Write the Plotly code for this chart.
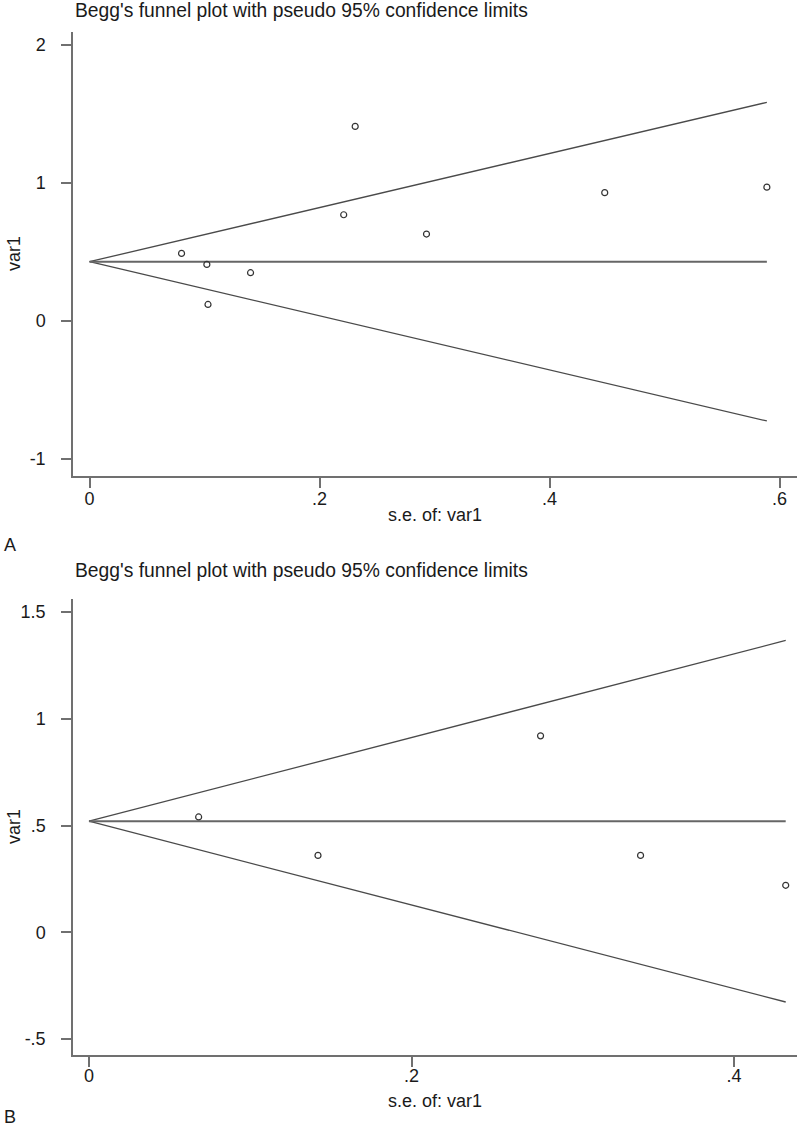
import plotly.graph_objects as go

# Panel A: standard errors and estimates
se_a = [0.080, 0.102, 0.103, 0.140, 0.221, 0.231, 0.293, 0.448, 0.589]
est_a = [0.49, 0.41, 0.12, 0.35, 0.77, 1.41, 0.63, 0.93, 0.97]
pooled_a = 0.43

# Panel B
se_b = [0.068, 0.142, 0.280, 0.342, 0.432]
est_b = [0.54, 0.36, 0.92, 0.36, 0.22]
pooled_b = 0.52

title_text = "Begg's funnel plot with pseudo 95% confidence limits"
x_title = "s.e. of: var1"
y_title = "var1"

W, H = 800, 1127
FONT = "Liberation Sans, Arial, sans-serif"
AXIS_GREY = "#707070"
LINE_GREY = "#4a4a4a"
TEXT = "#1a1a1a"


def funnel_traces(se, est, pooled, xa, ya):
    se_max = max(se)
    xs = [0, se_max]
    traces = [
        go.Scatter(x=xs, y=[pooled, pooled + 1.96 * se_max], mode="lines",
                   line=dict(color=LINE_GREY, width=1.3), xaxis=xa, yaxis=ya),
        go.Scatter(x=xs, y=[pooled, pooled - 1.96 * se_max], mode="lines",
                   line=dict(color=LINE_GREY, width=1.3), xaxis=xa, yaxis=ya),
        go.Scatter(x=xs, y=[pooled, pooled], mode="lines",
                   line=dict(color="#666666", width=2), xaxis=xa, yaxis=ya),
        go.Scatter(x=se, y=est, mode="markers",
                   marker=dict(symbol="circle-open", size=6, color="#333333",
                               line=dict(width=1.2)),
                   xaxis=xa, yaxis=ya),
    ]
    return traces


fig = go.Figure()
for t in funnel_traces(se_a, est_a, pooled_a, "x", "y"):
    fig.add_trace(t)
for t in funnel_traces(se_b, est_b, pooled_b, "x2", "y2"):
    fig.add_trace(t)


def px_y(p):
    return 1 - p / H


axis_common = dict(
    showline=True, linecolor=AXIS_GREY, linewidth=1.5,
    ticks="outside", ticklen=10, tickwidth=1.5, tickcolor=AXIS_GREY,
    showgrid=False, zeroline=False,
    tickfont=dict(family=FONT, size=18, color=TEXT),
)

x_dom = [73 / W, 797 / W]
fig.update_layout(
    width=W, height=H, autosize=False,
    margin=dict(l=0, r=0, t=0, b=0),
    paper_bgcolor="white", plot_bgcolor="white",
    showlegend=False,
    xaxis=dict(axis_common, domain=x_dom, range=[-0.0144, 0.6152],
               tickvals=[0, 0.2, 0.4, 0.6], ticktext=["0", ".2", ".4", ".6"],
               ticklabelstandoff=-4, anchor="y"),
    yaxis=dict(axis_common, domain=[px_y(476), px_y(32)], range=[-1.123, 2.094],
               tickvals=[-1, 0, 1, 2], ticktext=["-1", "0", "1", "2"],
               ticklabelstandoff=12, anchor="x"),
    xaxis2=dict(axis_common, domain=x_dom, range=[-0.0099, 0.439],
                tickvals=[0, 0.2, 0.4], ticktext=["0", ".2", ".4"],
                ticklabelstandoff=-6, anchor="y2"),
    yaxis2=dict(axis_common, domain=[px_y(1055), px_y(599)], range=[-0.575, 1.561],
                tickvals=[-0.5, 0, 0.5, 1, 1.5], ticktext=["-.5", "0", ".5", "1", "1.5"],
                ticklabelstandoff=12, anchor="x2"),
)

annotations = []
panels = [
    # title y, plot top/bottom (px), x-title y, letter y, letter
    (10, 32, 476, 515, 545, "A"),
    (570, 599, 1055, 1101, 1117, "B"),
]
for title_y, top, bottom, xt_y, letter_y, letter in panels:
    annotations += [
        dict(text=title_text, x=73 / W, y=px_y(title_y), xref="paper", yref="paper",
             xanchor="left", yanchor="middle", showarrow=False,
             font=dict(family=FONT, size=19.3, color=TEXT)),
        dict(text=x_title, x=435 / W, y=px_y(xt_y), xref="paper", yref="paper",
             xanchor="center", yanchor="middle", showarrow=False,
             font=dict(family=FONT, size=18, color=TEXT)),
        dict(text=y_title, x=14 / W, y=px_y((top + bottom) / 2), xref="paper", yref="paper",
             xanchor="center", yanchor="middle", textangle=-90, showarrow=False,
             font=dict(family=FONT, size=18, color=TEXT)),
        dict(text=letter, x=2 / W, y=px_y(letter_y), xref="paper", yref="paper",
             xanchor="left", yanchor="middle", showarrow=False,
             font=dict(family=FONT, size=18, color=TEXT)),
    ]
fig.update_layout(annotations=annotations)

fig.write_html("out.html", config={"displayModeBar": False},
               post_script="document.body.style.margin='0px';")
